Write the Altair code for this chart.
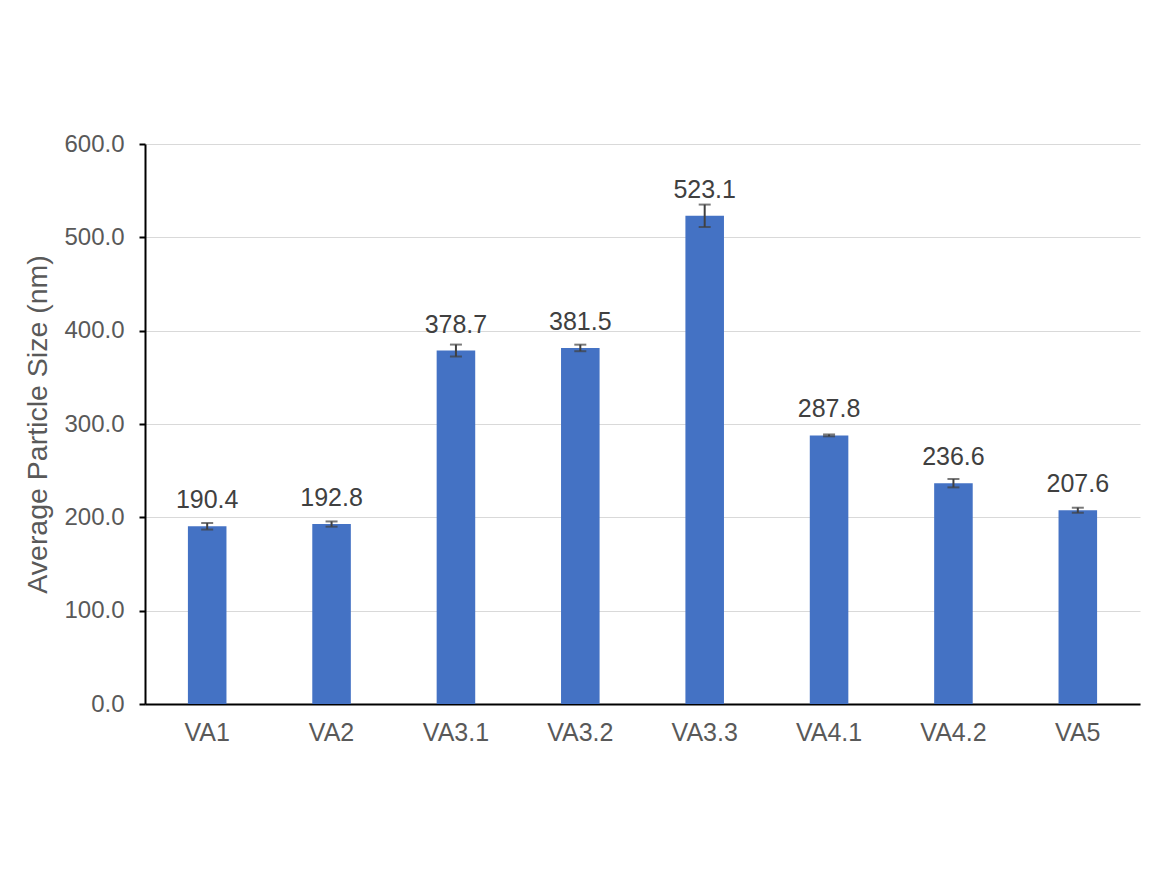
import altair as alt
import pandas as pd

categories = ["VA1", "VA2", "VA3.1", "VA3.2", "VA3.3", "VA4.1", "VA4.2", "VA5"]
values = [190.4, 192.8, 378.7, 381.5, 523.1, 287.8, 236.6, 207.6]
errors = [3.5, 2.8, 6.4, 3.5, 12.0, 1.0, 4.5, 2.7]

df = pd.DataFrame({"cat": categories, "val": values, "err": errors})
df["lo"] = df["val"] - df["err"]
df["hi"] = df["val"] + df["err"]
df["label"] = df["val"].map(lambda v: f"{v:.1f}")

FONT = "Liberation Sans"
x = alt.X("cat:N", sort=categories, title=None,
          scale=alt.Scale(paddingInner=0.69, paddingOuter=0.345),
          axis=alt.Axis(labelAngle=0, labelFontSize=25, labelColor="#595959",
                        labelFont=FONT, ticks=False, domainColor="black",
                        domainWidth=2, labelPadding=16))
y_axis = alt.Axis(format=".1f", values=[0, 100, 200, 300, 400, 500, 600],
                  labelFontSize=24, labelColor="#595959", labelFont=FONT,
                  titleFontSize=28.5, titleColor="#595959", titleFont=FONT,
                  titleFontWeight="normal", titlePadding=11,
                  domainColor="black", domainWidth=2, tickColor="black",
                  tickWidth=2, tickSize=6, labelPadding=15,
                  gridColor="#d9d9d9", gridWidth=1)

base = alt.Chart(df)
bars = base.mark_bar(color="#4472C4").encode(
    x=x,
    y=alt.Y("val:Q", title="Average Particle Size (nm)",
            scale=alt.Scale(domain=[0, 600], nice=False), axis=y_axis),
)
err = base.mark_rule(color="#404040", strokeWidth=2).encode(
    x=alt.X("cat:N", sort=categories), y="lo:Q", y2="hi:Q")
cap_hi = base.mark_tick(color="#404040", thickness=2, size=12, orient="horizontal").encode(
    x=alt.X("cat:N", sort=categories), y="hi:Q")
cap_lo = base.mark_tick(color="#404040", thickness=2, size=12, orient="horizontal").encode(
    x=alt.X("cat:N", sort=categories), y="lo:Q")
text = base.mark_text(fontSize=25, color="#404040", font=FONT, dy=-18,
                      baseline="alphabetic").encode(
    x=alt.X("cat:N", sort=categories), y="val:Q", text="label:N")

chart = alt.layer(bars, err, cap_hi, cap_lo, text).properties(
    width=995, height=560,
    padding={"left": 137, "top": 136, "right": 22, "bottom": 166},
    autosize=alt.AutoSizeParams(type="none"),
    background="white",
).configure_view(stroke=None)

chart.save("out.html", embed_options={"renderer": "svg", "actions": False})
